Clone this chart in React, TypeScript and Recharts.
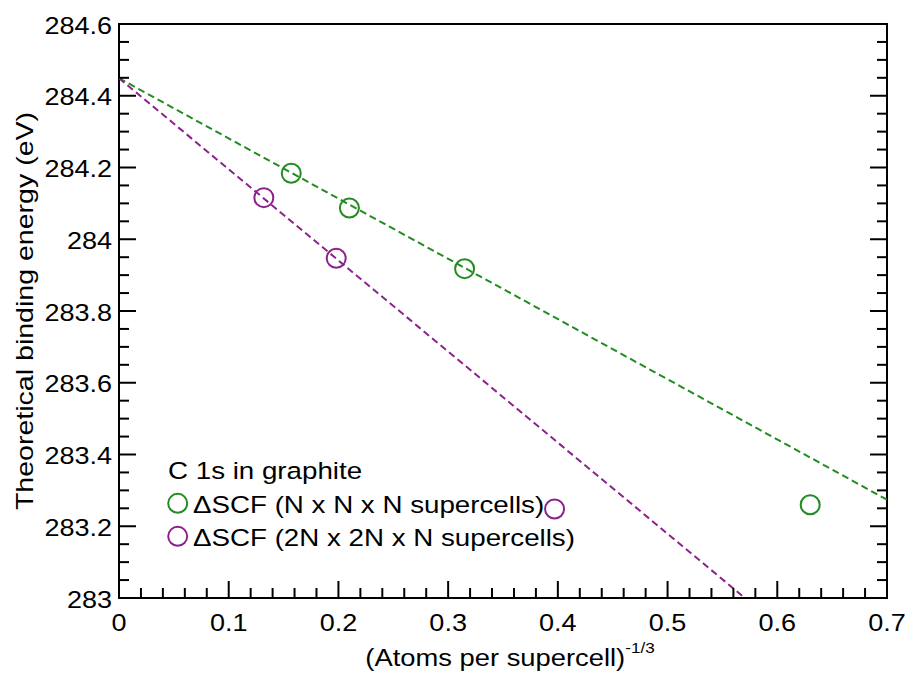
import { ScatterChart, Scatter, XAxis, YAxis, Legend } from "recharts";

const FONT = '"Liberation Sans", Arial, Helvetica, sans-serif';
const GREEN = "#228b22";
const PURPLE = "#8b228b";

// C 1s binding energy vs (atoms per supercell)^-1/3
const cubicName = "ΔSCF (N x N x N supercells)";
const cubicX = [0.157, 0.21, 0.315, 0.63];
const cubicY = [284.184, 284.087, 283.918, 283.26];

const slabName = "ΔSCF (2N x 2N x N supercells)";
const slabX = [0.132, 0.198, 0.397];
const slabY = [284.116, 283.947, 283.248];

// dashed linear fits, read at their visible ends
const cubicFitX = [0, 0.7];
const cubicFitY = [284.449, 283.274];
const slabFitX = [0, 0.5705];
const slabFitY = [284.449, 283];

const legendTitle = "C 1s in graphite";
const legendNames = [cubicName, slabName];
const legendColors = [GREEN, PURPLE];

const xMajorTicks = [0, 0.1, 0.2, 0.3, 0.4, 0.5, 0.6, 0.7];
const yMajorTicks = [283, 283.2, 283.4, 283.6, 283.8, 284, 284.2, 284.4, 284.6];
const X_MINOR_STEP = 0.02;
const Y_MINOR_STEP = 0.05;

const zip = (xs: number[], ys: number[]) => xs.map((x, i) => ({ x, y: ys[i] }));

const withMinor = (major: number[], step: number) =>
  major.flatMap((t, i) =>
    i === major.length - 1
      ? [t]
      : Array.from({ length: Math.round((major[i + 1] - t) / step) }, (_, k) => t + k * step),
  );

const xTicks = withMinor(xMajorTicks, X_MINOR_STEP);
const yTicks = withMinor(yMajorTicks, Y_MINOR_STEP);

const isMajor = (v: number, majors: number[]) => majors.some((m) => Math.abs(m - v) < 1e-9);
const fmt = (v: number) => String(parseFloat(v.toFixed(1)));

const MAJOR = 17;
const MINOR = 10;

const BottomTick = ({ x, y, payload }: any) => {
  const major = isMajor(payload.value, xMajorTicks);
  return (
    <g>
      <line x1={x} x2={x} y1={y} y2={y - (major ? MAJOR : MINOR)} stroke="#000" strokeWidth={2} />
      {major && (
        <text
          transform={`translate(${x},${y + 33}) scale(1.15,1)`}
          textAnchor="middle"
          fontSize={23.5}
          fontFamily={FONT}
          fill="#000"
        >
          {fmt(payload.value)}
        </text>
      )}
    </g>
  );
};

const TopTick = ({ x, y, payload }: any) => {
  const major = isMajor(payload.value, xMajorTicks);
  return <line x1={x} x2={x} y1={y} y2={y + (major ? MAJOR : MINOR)} stroke="#000" strokeWidth={2} />;
};

const LeftTick = ({ x, y, payload }: any) => {
  const major = isMajor(payload.value, yMajorTicks);
  return (
    <g>
      <line x1={x} x2={x + (major ? MAJOR : MINOR)} y1={y} y2={y} stroke="#000" strokeWidth={2} />
      {major && (
        <text
          transform={`translate(${x - 7},${y + 9.5}) scale(1.15,1)`}
          textAnchor="end"
          fontSize={23.5}
          fontFamily={FONT}
          fill="#000"
        >
          {fmt(payload.value)}
        </text>
      )}
    </g>
  );
};

const RightTick = ({ x, y, payload }: any) => {
  const major = isMajor(payload.value, yMajorTicks);
  return <line x1={x} x2={x - (major ? MAJOR : MINOR)} y1={y} y2={y} stroke="#000" strokeWidth={2} />;
};

const YTitle = ({ viewBox }: any) => (
  <text
    transform={`translate(${viewBox.x + 33},${viewBox.y + viewBox.height / 2}) rotate(-90) scale(1.19,1)`}
    textAnchor="middle"
    fontSize={24}
    fontFamily={FONT}
    fill="#000"
  >
    Theoretical binding energy (eV)
  </text>
);

const XTitle = ({ viewBox }: any) => (
  <text
    transform={`translate(${viewBox.x + viewBox.width / 2 + 7},${viewBox.y + 68}) scale(1.14,1)`}
    textAnchor="middle"
    fontSize={24}
    fontFamily={FONT}
    fill="#000"
  >
    (Atoms per supercell)
    <tspan dy={-13} fontSize={15}>
      -1/3
    </tspan>
  </text>
);

const ring = (color: string) => (props: any) =>
  <circle cx={props.cx} cy={props.cy} r={9.5} fill="none" stroke={color} strokeWidth={2} />;

const noDot = () => <g />;

const renderLegend = () => (
  <svg width={470} height={110} style={{ overflow: "visible" }}>
    <text transform="translate(18,31) scale(1.18,1)" fontSize={23.5} fontFamily={FONT} fill="#000">
      {legendTitle}
    </text>
    {legendNames.map((name, i) => (
      <g key={name}>
        <circle cx={27.7} cy={55.3 + i * 33} r={9.5} fill="none" stroke={legendColors[i]} strokeWidth={2} />
        <text
          transform={`translate(43,${65 + i * 33}) scale(1.18,1)`}
          fontSize={23.5}
          fontFamily={FONT}
          fill="#000"
        >
          {name}
        </text>
      </g>
    ))}
  </svg>
);

const frame = { stroke: "#000", strokeWidth: 2, strokeLinecap: "square" as const };

export default function App() {
  return (
    <div style={{ position: "absolute", left: 0, top: 0, background: "#fff" }}>
      <ScatterChart
        width={909}
        height={673}
        margin={{ top: 23, right: 21, bottom: 0, left: 0 }}
        style={{ fontFamily: FONT }}
      >
        <XAxis
          xAxisId="b"
          dataKey="x"
          type="number"
          orientation="bottom"
          domain={[0, 0.7]}
          allowDataOverflow
          ticks={xTicks}
          interval={0}
          height={75}
          tickSize={0}
          tickMargin={0}
          tickLine={false}
          axisLine={frame}
          tick={BottomTick}
          label={XTitle}
        />
        <XAxis
          xAxisId="t"
          type="number"
          orientation="top"
          domain={[0, 0.7]}
          allowDataOverflow
          ticks={xTicks}
          interval={0}
          height={1}
          tickSize={0}
          tickMargin={0}
          tickLine={false}
          axisLine={frame}
          tick={TopTick}
        />
        <YAxis
          yAxisId="l"
          dataKey="y"
          type="number"
          orientation="left"
          domain={[283, 284.6]}
          allowDataOverflow
          ticks={yTicks}
          interval={0}
          width={119}
          tickSize={0}
          tickMargin={0}
          tickLine={false}
          axisLine={frame}
          tick={LeftTick}
          label={YTitle}
        />
        <YAxis
          yAxisId="r"
          type="number"
          orientation="right"
          domain={[283, 284.6]}
          allowDataOverflow
          ticks={yTicks}
          interval={0}
          width={1}
          tickSize={0}
          tickMargin={0}
          tickLine={false}
          axisLine={frame}
          tick={RightTick}
        />
        <Scatter
          xAxisId="b"
          yAxisId="l"
          data={zip(cubicFitX, cubicFitY)}
          line={{ stroke: GREEN, strokeWidth: 2, strokeDasharray: "7 4" }}
          shape={noDot}
          legendType="none"
          isAnimationActive={false}
        />
        <Scatter
          xAxisId="b"
          yAxisId="l"
          data={zip(slabFitX, slabFitY)}
          line={{ stroke: PURPLE, strokeWidth: 2, strokeDasharray: "7 4" }}
          shape={noDot}
          legendType="none"
          isAnimationActive={false}
        />
        <Scatter
          name={cubicName}
          xAxisId="b"
          yAxisId="l"
          data={zip(cubicX, cubicY)}
          fill={GREEN}
          shape={ring(GREEN)}
          isAnimationActive={false}
        />
        <Scatter
          name={slabName}
          xAxisId="b"
          yAxisId="l"
          data={zip(slabX, slabY)}
          fill={PURPLE}
          shape={ring(PURPLE)}
          isAnimationActive={false}
        />
        <Legend
          layout="vertical"
          align="center"
          verticalAlign="middle"
          wrapperStyle={{ left: 150, top: 448, width: 470, height: 110 }}
          content={renderLegend}
        />
      </ScatterChart>
    </div>
  );
}
